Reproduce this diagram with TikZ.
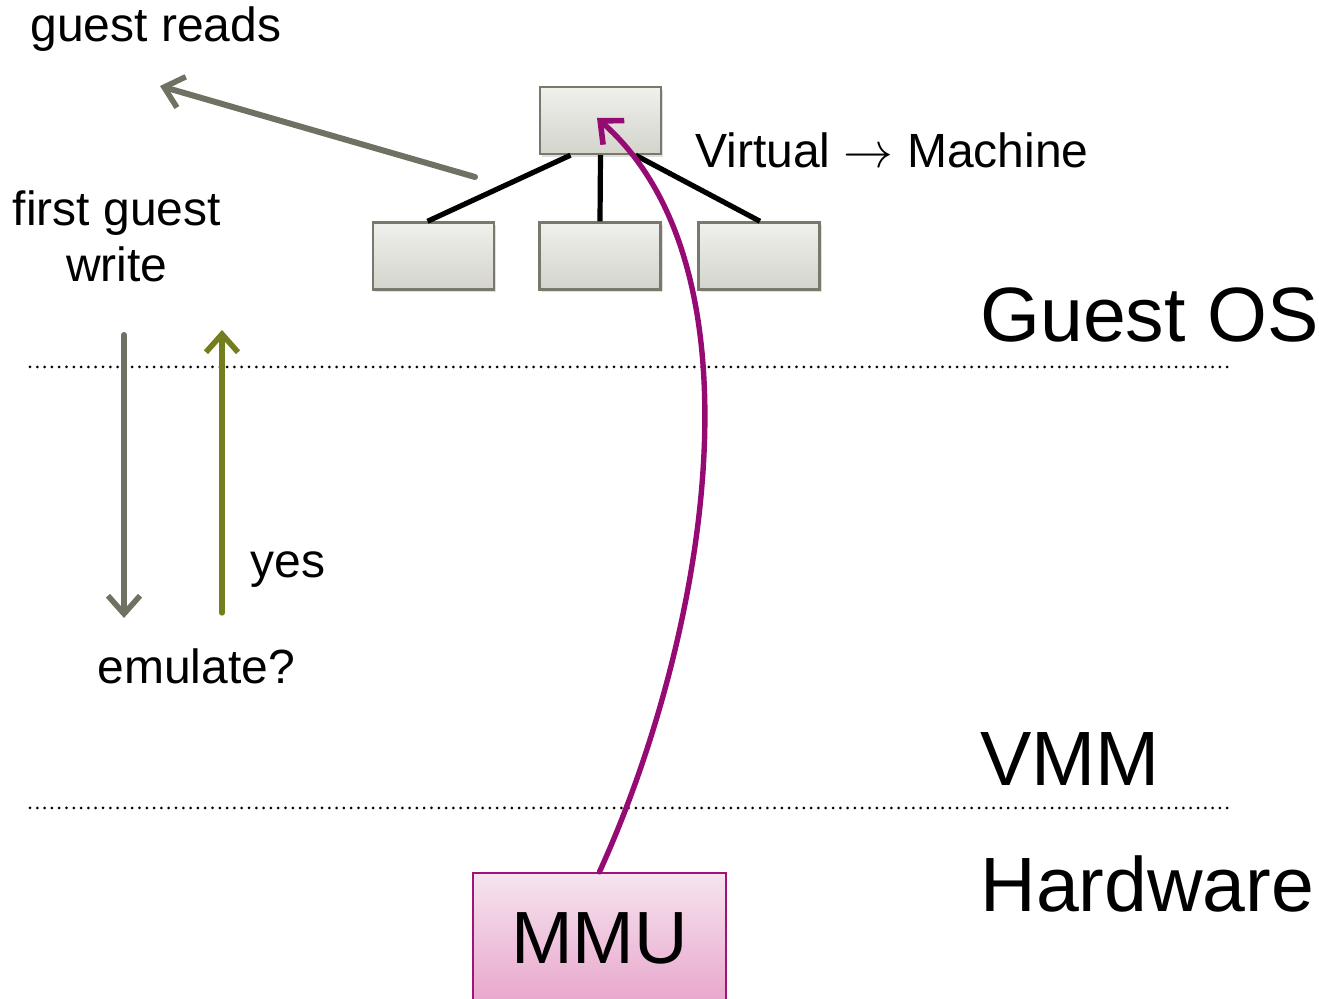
\documentclass[tikz,border=0pt]{standalone}
\usepackage{fontspec}
\setmainfont{Liberation Sans}
\usetikzlibrary{arrows.meta,shadows,calc}
\definecolor{boxtop}{RGB}{240,240,236}
\definecolor{boxbot}{RGB}{212,212,205}
\definecolor{boxline}{RGB}{120,121,108}
\definecolor{grayarrow}{RGB}{111,113,99}
\definecolor{olivearrow}{RGB}{117,126,28}
\definecolor{purplecurve}{RGB}{150,10,115}
\definecolor{mmutop}{RGB}{246,228,239}
\definecolor{mmubot}{RGB}{232,166,204}
\definecolor{mmuline}{RGB}{160,20,120}
\tikzset{
  treebox/.style={draw=boxline, line width=1.2pt, top color=boxtop, bottom color=boxbot,
    minimum width=60.5pt, minimum height=33.5pt, inner sep=0pt,
    drop shadow={shadow xshift=1pt, shadow yshift=-1.5pt, opacity=0.25}},
  treeline/.style={line width=2.6pt, black},
  lbl/.style={inner sep=0pt, font=\fontsize{24}{28}\selectfont, anchor=base west},
  biglbl/.style={inner sep=0pt, font=\fontsize{38.5}{44}\selectfont, anchor=base west},
  barb/.style={-{Straight Barb[length=9pt, width=16pt, line width=2.8pt]}},
  layerline/.style={line width=1.5pt, dash pattern=on 0pt off 3.65pt, line cap=round}
}
\begin{document}
\begin{tikzpicture}[x=0.5pt, y=-0.5pt]
\useasboundingbox (0,0) rectangle (1319,999);
% layer separators
\coordinate (l1a) at (30,367);
\coordinate (l1b) at (1232,367);
\coordinate (l2a) at (30,808);
\coordinate (l2b) at (1232,808);
\draw[layerline] (l1a) -- (l1b);
\draw[layerline] (l2a) -- (l2b);
% tree
\node[treebox] (root) at (600.5,120.5) {};
\node[treebox] (c1) at (433.5,256) {};
\node[treebox] (c2) at (600,256) {};
\node[treebox] (c3) at (759,256) {};
\draw[treeline] ($(root.south)+(-30,0)$) -- ($(c1.north)+(-6,0)$);
\draw[treeline] (root.south) -- (c2.north);
\draw[treeline] ($(root.south)+(35,0)$) -- ($(c3.north)+(1,0)$);
% guest reads arrow
\coordinate (gr0) at (475,177);
\coordinate (gr1) at (160,86);
\draw[grayarrow, line width=3pt, line cap=round, barb] (gr0) -- (gr1);
% labels
\node[lbl] (greads) at (30,42) {guest reads};
\node[lbl] (vm) at (695,168) {Virtual $\rightarrow$ Machine};
\node[lbl, anchor=base] (fgw1) at (117,226) {first guest};
\node[lbl, anchor=base] (fgw2) at (117,282) {write};
\node[lbl] (yes) at (250,578) {yes};
\node[lbl] (emu) at (97,684) {emulate?};
\node[biglbl] (gos) at (980,342) {Guest OS};
\node[biglbl] (vmm) at (980,786) {VMM};
\node[biglbl] (hw) at (980,912) {Hardware};
% vertical arrows
\coordinate (d0) at (124,335);
\coordinate (d1) at (124,618);
\draw[grayarrow, line width=3pt, line cap=round, barb] (d0) -- (d1);
\coordinate (u0) at (222,613);
\coordinate (u1) at (222,330);
\draw[olivearrow, line width=2.6pt, line cap=round, barb] (u0) -- (u1);
% MMU
\node[draw=mmuline, line width=1.2pt, top color=mmutop, bottom color=mmubot,
  minimum width=126.5pt, minimum height=65pt, inner sep=0pt,
  font=\fontsize{37}{42}\selectfont] (mmu) at (599.5,938) {MMU};
\coordinate (tip) at (597,118);
\draw[purplecurve, line width=2.7pt, line cap=round, barb]
  (mmu.north) .. controls (705,640) and (770,270) .. (tip);
\end{tikzpicture}
\end{document}
